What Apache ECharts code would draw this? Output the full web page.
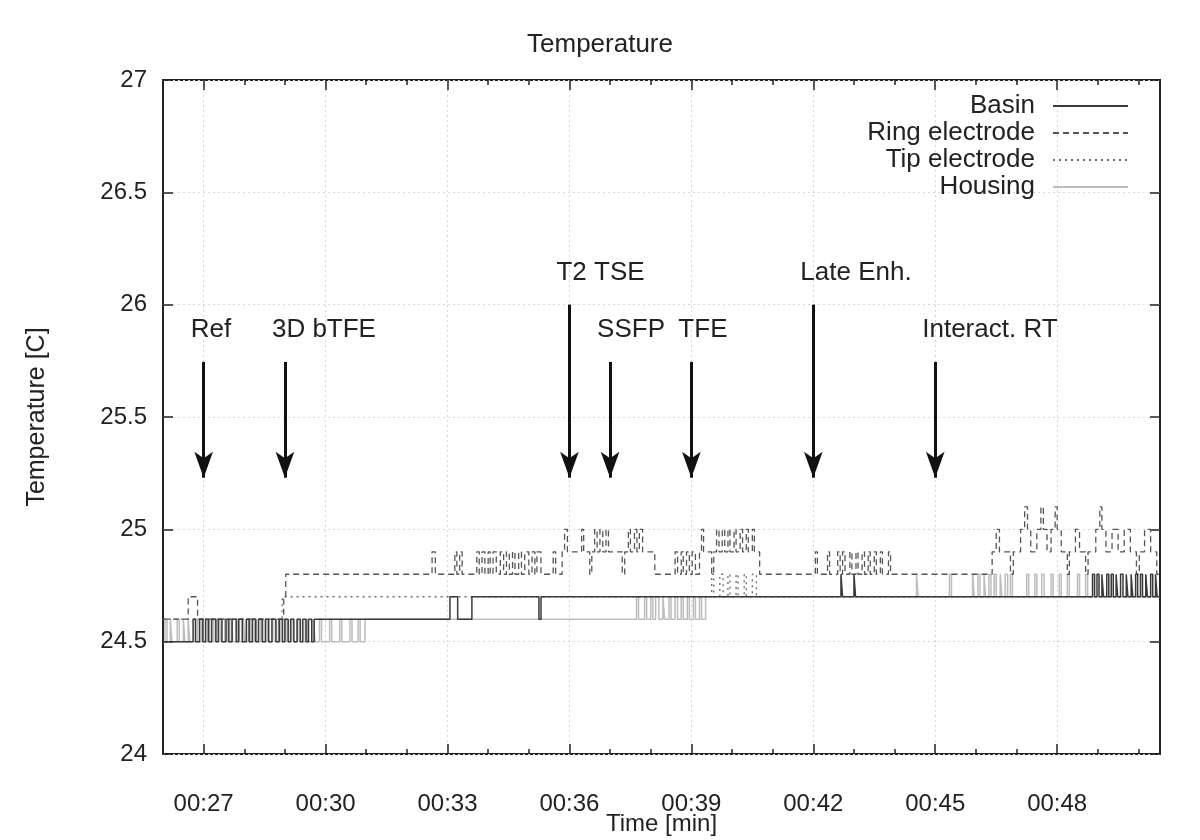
<!DOCTYPE html>
<html>
<head>
<meta charset="utf-8">
<script src="https://cdn.jsdelivr.net/npm/echarts@6/dist/echarts.min.js"></script>
<style>
html, body { margin: 0; padding: 0; background: #fff; }
#chart { width: 1200px; height: 840px; }
</style>
</head>
<body>
<div id="chart"></div>
<script>
// time in minutes, temperature in C, step values (value holds until next point)
var basinPts = [
    [26.00, 24.5], [26.74, 24.6], [26.80, 24.5], [26.90, 24.6], [26.98, 24.5], [27.05, 24.6], [27.12, 24.5],
    [27.20, 24.6], [27.30, 24.5], [27.36, 24.6], [27.45, 24.5], [27.55, 24.6], [27.62, 24.5], [27.70, 24.6],
    [27.80, 24.5], [27.86, 24.6], [27.95, 24.5], [28.05, 24.6], [28.12, 24.5], [28.20, 24.6], [28.28, 24.5],
    [28.35, 24.6], [28.44, 24.5], [28.52, 24.6], [28.60, 24.5], [28.68, 24.6], [28.78, 24.5], [28.86, 24.6],
    [28.94, 24.5], [29.00, 24.6], [29.08, 24.5], [29.14, 24.6], [29.22, 24.5], [29.30, 24.6], [29.38, 24.5],
    [29.44, 24.6], [29.52, 24.5], [29.58, 24.6], [29.66, 24.5], [29.72, 24.6],
    [33.06, 24.7], [33.25, 24.6], [33.60, 24.7], [35.25, 24.6], [35.30, 24.7],
    [42.68, 24.8], [42.72, 24.7], [43.00, 24.8], [43.04, 24.7],
    [48.87, 24.8], [48.92, 24.7], [48.98, 24.8], [49.03, 24.7], [49.10, 24.8], [49.14, 24.7], [49.22, 24.8],
    [49.27, 24.7], [49.33, 24.8], [49.38, 24.7], [49.45, 24.8], [49.49, 24.7], [49.56, 24.8], [49.62, 24.7],
    [49.70, 24.8], [49.74, 24.7], [49.82, 24.8], [49.86, 24.7], [49.93, 24.8], [49.98, 24.7], [50.05, 24.8],
    [50.10, 24.7], [50.18, 24.8], [50.22, 24.7], [50.30, 24.8], [50.35, 24.7], [50.42, 24.8], [50.46, 24.7],
    [50.53, 24.7]
];
var ringPts = [
    [26.00, 24.6], [26.62, 24.7], [26.85, 24.6], [28.97, 24.7], [29.02, 24.8],
    [32.62, 24.9], [32.70, 24.8], [33.18, 24.9], [33.23, 24.8], [33.30, 24.9], [33.36, 24.8], [33.72, 24.9],
    [33.78, 24.8], [33.85, 24.9], [33.92, 24.8], [34.00, 24.9], [34.05, 24.8], [34.12, 24.9], [34.20, 24.8],
    [34.30, 24.9], [34.38, 24.8], [34.45, 24.9], [34.52, 24.8], [34.60, 24.9], [34.66, 24.8], [34.75, 24.9],
    [34.82, 24.8], [34.90, 24.9], [35.00, 24.8], [35.08, 24.9], [35.15, 24.8], [35.20, 24.9], [35.30, 24.8],
    [35.60, 24.9], [35.66, 24.8], [35.82, 24.9], [35.88, 25.0], [35.95, 24.9],
    [36.30, 25.0], [36.35, 24.9], [36.50, 24.8], [36.55, 24.9], [36.62, 25.0], [36.68, 24.9], [36.75, 25.0],
    [36.82, 24.9], [36.90, 25.0], [36.96, 24.9], [37.30, 24.8], [37.36, 24.9], [37.45, 25.0], [37.50, 24.9],
    [37.60, 25.0], [37.66, 24.9], [37.72, 25.0], [37.80, 24.9], [38.10, 24.8],
    [38.60, 24.9], [38.66, 24.8], [38.75, 24.9], [38.80, 24.8], [38.88, 24.9], [38.95, 24.8], [39.02, 24.9],
    [39.10, 24.8], [39.20, 24.9], [39.25, 25.0], [39.30, 24.9], [39.50, 24.8], [39.55, 24.9], [39.62, 25.0],
    [39.68, 24.9], [39.76, 25.0], [39.82, 24.9], [39.90, 25.0], [39.95, 24.9], [40.05, 25.0], [40.10, 24.9],
    [40.20, 25.0], [40.26, 24.9], [40.35, 25.0], [40.40, 24.9], [40.50, 25.0], [40.55, 24.9], [40.68, 24.8],
    [42.05, 24.9], [42.10, 24.8], [42.35, 24.9], [42.40, 24.8], [42.60, 24.9], [42.66, 24.8], [42.72, 24.9],
    [42.78, 24.8], [42.90, 24.9], [42.95, 24.8], [43.05, 24.9], [43.10, 24.8], [43.20, 24.9], [43.26, 24.8],
    [43.35, 24.9], [43.40, 24.8], [43.50, 24.9], [43.55, 24.8], [43.65, 24.9], [43.70, 24.8], [43.85, 24.9],
    [43.90, 24.8],
    [46.40, 24.9], [46.50, 25.0], [46.58, 24.9], [46.85, 24.8], [46.92, 24.9], [47.10, 25.0], [47.20, 25.1],
    [47.27, 25.0], [47.35, 24.9], [47.50, 25.0], [47.60, 25.1], [47.66, 25.0], [47.75, 24.9], [47.85, 25.0],
    [47.95, 25.1], [48.00, 25.0], [48.10, 24.9], [48.25, 24.8], [48.30, 24.9], [48.45, 25.0], [48.55, 24.9],
    [48.70, 24.8], [48.76, 24.9], [48.95, 25.0], [49.05, 25.1], [49.10, 25.0], [49.20, 24.9], [49.35, 25.0],
    [49.50, 24.9], [49.65, 25.0], [49.80, 24.9], [49.95, 24.8], [50.02, 24.9], [50.15, 25.0], [50.30, 24.9],
    [50.45, 24.8], [50.53, 24.8]
];
var tipPts = [
    [26.00, 24.6], [28.93, 24.7],
    [39.50, 24.8], [39.55, 24.7], [39.70, 24.8], [39.78, 24.7], [39.90, 24.8], [39.95, 24.7], [40.10, 24.8],
    [40.15, 24.7], [40.30, 24.8], [40.35, 24.7], [40.50, 24.8], [40.60, 24.7],
    [50.53, 24.7]
];
var housingPts = [
    [26.00, 24.5], [26.05, 24.6], [26.10, 24.5], [26.18, 24.6], [26.22, 24.5], [26.35, 24.6], [26.40, 24.5],
    [26.50, 24.6], [26.54, 24.5], [26.62, 24.6], [26.66, 24.5], [26.80, 24.6], [26.85, 24.5], [26.95, 24.6],
    [27.00, 24.5], [27.10, 24.6], [27.15, 24.5], [27.25, 24.6], [27.30, 24.5], [27.40, 24.6], [27.44, 24.5],
    [27.52, 24.6], [27.58, 24.5], [27.68, 24.6], [27.72, 24.5], [27.82, 24.6], [27.88, 24.5], [27.98, 24.6],
    [28.02, 24.5], [28.10, 24.6], [28.16, 24.5], [28.25, 24.6], [28.30, 24.5], [28.40, 24.6], [28.46, 24.5],
    [28.56, 24.6], [28.60, 24.5], [28.70, 24.6], [28.76, 24.5], [28.84, 24.6], [28.90, 24.5], [29.00, 24.6],
    [29.05, 24.5], [29.15, 24.6], [29.20, 24.5], [29.30, 24.6], [29.35, 24.5], [29.50, 24.6], [29.55, 24.5],
    [29.70, 24.6], [29.74, 24.5], [29.85, 24.6], [29.90, 24.5], [30.10, 24.6], [30.15, 24.5], [30.35, 24.6],
    [30.40, 24.5], [30.60, 24.6], [30.65, 24.5], [30.80, 24.6], [30.85, 24.5], [30.97, 24.6],
    [37.65, 24.7], [37.70, 24.6], [37.85, 24.7], [37.90, 24.6], [38.00, 24.7], [38.05, 24.6], [38.12, 24.7],
    [38.20, 24.6], [38.30, 24.7], [38.34, 24.6], [38.45, 24.7], [38.50, 24.6], [38.60, 24.7], [38.66, 24.6],
    [38.75, 24.7], [38.80, 24.6], [38.90, 24.7], [38.95, 24.6], [39.05, 24.7], [39.10, 24.6], [39.20, 24.7],
    [39.25, 24.6], [39.35, 24.7],
    [44.54, 24.8], [44.58, 24.7], [45.35, 24.8], [45.40, 24.7], [45.92, 24.8], [45.96, 24.7], [46.05, 24.8],
    [46.10, 24.7], [46.20, 24.8], [46.24, 24.7], [46.32, 24.8], [46.37, 24.7], [46.45, 24.8], [46.50, 24.7],
    [46.60, 24.8], [46.64, 24.7], [46.72, 24.8], [46.78, 24.7], [46.85, 24.8], [46.90, 24.7], [47.25, 24.8],
    [47.30, 24.7], [47.45, 24.8], [47.50, 24.7], [47.62, 24.8], [47.68, 24.7], [47.85, 24.8], [47.90, 24.7],
    [48.05, 24.8], [48.10, 24.7], [48.25, 24.8], [48.30, 24.7], [48.50, 24.8], [48.55, 24.7], [48.70, 24.8],
    [48.75, 24.7], [50.53, 24.7]
];

// scan events (arrows)
var eventNames = ['Ref', '3D bTFE', 'T2 TSE', 'SSFP', 'TFE', 'Late Enh.', 'Interact. RT'];
var eventTimes = [27, 29, 36, 37, 39, 42, 45];
var arrowTop = [25.745, 25.745, 26.0, 25.745, 25.745, 26.0, 25.745];
var arrowEnd = 25.23;
var labelY = [25.89, 25.89, 26.14, 25.89, 25.89, 26.14, 25.89];

var majorTicks = [27, 30, 33, 36, 39, 42, 45, 48];
var minorTicks = [26, 27, 28, 29, 30, 31, 32, 33, 34, 35, 36, 37, 38, 39, 40, 41, 42, 43, 44, 45, 46, 47, 48, 49, 50];

var FONT = 'Liberation Sans';
var TXT = '#222';

var chart = echarts.init(document.getElementById('chart'));

var arrowLines = [];
var labelPts = [];
for (var i = 0; i < eventNames.length; i++) {
    arrowLines.push([{ coord: [eventTimes[i], arrowTop[i]] }, { coord: [eventTimes[i], arrowEnd] }]);
    labelPts.push({ value: [eventTimes[i], labelY[i]], name: eventNames[i] });
}

function pad2(v) { return (v < 10 ? '0' : '') + v; }

function stepSeries(name, pts, color, type, width) {
    return {
        name: name,
        type: 'line',
        step: 'end',
        data: pts,
        showSymbol: false,
        symbol: 'none',
        xAxisIndex: 0,
        yAxisIndex: 0,
        lineStyle: { color: color, type: type, width: width },
        itemStyle: { color: color },
        silent: true
    };
}

var tickStyle = { color: '#222', width: 1.5 };

var option = {
    animation: false,
    backgroundColor: '#fff',
    title: {
        text: 'Temperature',
        left: 'center',
        top: 27,
        textStyle: { fontFamily: FONT, fontSize: 26, fontWeight: 'normal', color: TXT }
    },
    legend: {
        data: ['Basin', 'Ring electrode', 'Tip electrode', 'Housing'],
        orient: 'vertical',
        right: 66,
        top: 88,
        align: 'right',
        itemWidth: 75,
        itemHeight: 14,
        itemGap: 1,
        itemStyle: { opacity: 0 },
        textStyle: { fontFamily: FONT, fontSize: 26, color: TXT, padding: [0, 13, 0, 0] }
    },
    grid: {
        left: 163, right: 40, top: 80, bottom: 86,
        outerBoundsMode: 'none',
        containLabel: false,
        show: true,
        borderColor: '#222',
        borderWidth: 2,
        backgroundColor: 'transparent'
    },
    xAxis: [
        {
            type: 'value', min: 26, max: 50.53, position: 'bottom',
            name: 'Time [min]', nameLocation: 'middle', nameGap: 58,
            nameMoveOverlap: false,
            nameTextStyle: { fontFamily: FONT, fontSize: 24, color: TXT },
            axisLine: { show: false },
            axisTick: { show: true, inside: true, length: 10, customValues: majorTicks, lineStyle: tickStyle },
            axisLabel: {
                customValues: majorTicks, margin: 38,
                fontFamily: FONT, fontSize: 24, color: TXT,
                formatter: function (v) { return '00:' + pad2(v); }
            },
            splitLine: { show: true, lineStyle: { color: '#d6d6d6', type: [2, 3], width: 1 } }
        },
        {
            type: 'value', min: 26, max: 50.53, position: 'bottom',
            axisLine: { show: false },
            axisTick: { show: true, inside: true, length: 5, customValues: minorTicks, lineStyle: tickStyle },
            axisLabel: { show: false },
            splitLine: { show: false }
        },
        {
            type: 'value', min: 26, max: 50.53, position: 'top',
            axisLine: { show: false },
            axisTick: { show: true, inside: true, length: 10, customValues: majorTicks, lineStyle: tickStyle },
            axisLabel: { show: false },
            splitLine: { show: false }
        },
        {
            type: 'value', min: 26, max: 50.53, position: 'top',
            axisLine: { show: false },
            axisTick: { show: true, inside: true, length: 5, customValues: minorTicks, lineStyle: tickStyle },
            axisLabel: { show: false },
            splitLine: { show: false }
        }
    ],
    yAxis: [
        {
            type: 'value', min: 24, max: 27, interval: 0.5, position: 'left',
            name: 'Temperature [C]', nameLocation: 'middle', nameGap: 113,
            nameMoveOverlap: false,
            nameTextStyle: { fontFamily: FONT, fontSize: 25, color: TXT },
            axisLine: { show: false },
            axisTick: { show: true, inside: true, length: 10, lineStyle: tickStyle },
            axisLabel: { margin: 16, fontFamily: FONT, fontSize: 24, color: TXT },
            splitLine: { show: true, lineStyle: { color: '#d6d6d6', type: [2, 3], width: 1 } }
        },
        {
            type: 'value', min: 24, max: 27, interval: 0.5, position: 'right',
            axisLine: { show: false },
            axisTick: { show: true, inside: true, length: 10, lineStyle: tickStyle },
            axisLabel: { show: false },
            splitLine: { show: false }
        }
    ],
    series: [
        stepSeries('Housing', housingPts, '#bdbdbd', 'solid', 1.5),
        stepSeries('Tip electrode', tipPts, '#6a6a6a', [2, 4], 1.3),
        stepSeries('Ring electrode', ringPts, '#555', [6, 4], 1.3),
        stepSeries('Basin', basinPts, '#3a3a3a', 'solid', 1.5),
        {
            name: 'events',
            type: 'scatter',
            data: labelPts,
            symbolSize: 1,
            itemStyle: { color: 'rgba(0,0,0,0)', opacity: 1 },
            silent: true,
            label: {
                show: true,
                position: 'inside',
                align: 'left',
                offset: [-13, 0],
                formatter: '{b}',
                fontFamily: FONT, fontSize: 26, color: TXT
            },
            markLine: {
                silent: true,
                symbol: ['none', 'arrow'],
                symbolSize: [14, 26],
                label: { show: false },
                lineStyle: { color: '#111', type: 'solid', width: 3, opacity: 1 },
                emphasis: { disabled: true },
                data: arrowLines
            }
        }
    ]
};

chart.setOption(option);
</script>
</body>
</html>
